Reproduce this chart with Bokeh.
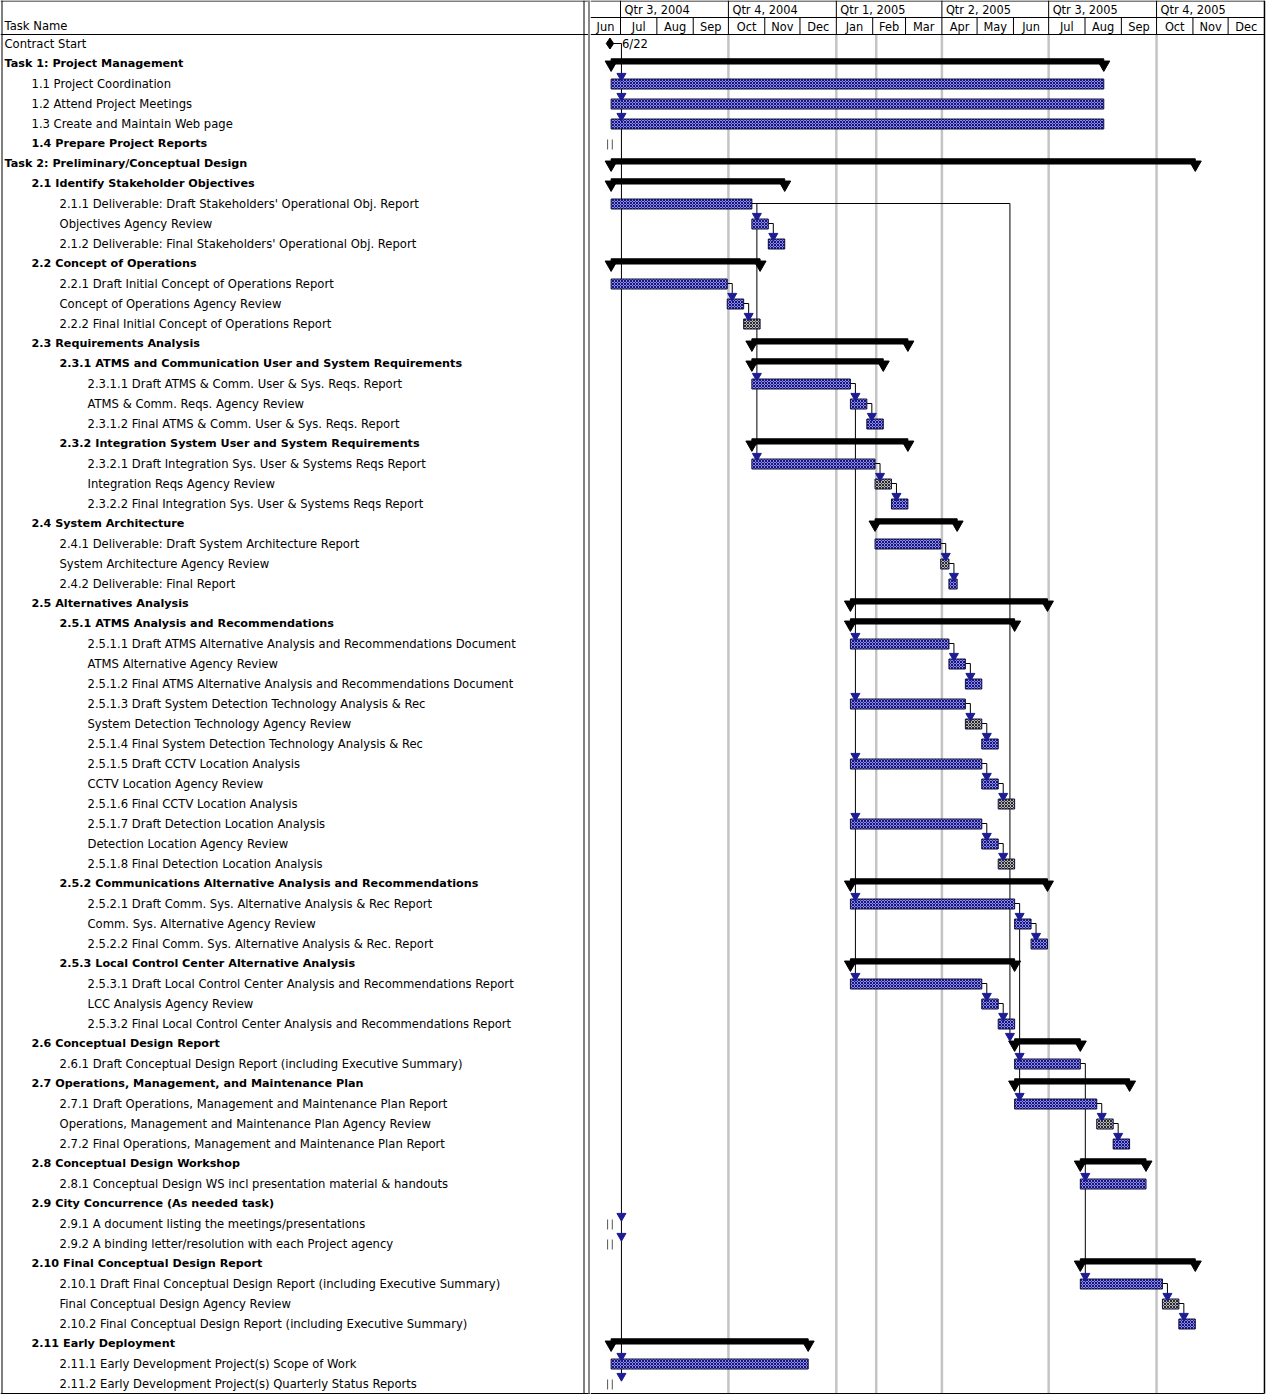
import pandas as pd
from datetime import datetime, timedelta
from bokeh.plotting import figure
from bokeh.layouts import row
from bokeh.models import Range1d
from bokeh.embed import file_html
from bokeh.resources import INLINE
from bokeh.core.properties import value

# ---------------------------------------------------------------- schedule
TASK_NAMES = [
    "Contract Start",
    "Task 1: Project Management",
    "1.1 Project Coordination",
    "1.2 Attend Project Meetings",
    "1.3 Create and Maintain Web page",
    "1.4 Prepare Project Reports",
    "Task 2: Preliminary/Conceptual Design",
    "2.1 Identify Stakeholder Objectives",
    "2.1.1 Deliverable: Draft Stakeholders' Operational Obj. Report",
    "Objectives Agency Review",
    "2.1.2 Deliverable: Final  Stakeholders' Operational Obj. Report",
    "2.2 Concept of Operations",
    "2.2.1 Draft Initial Concept of Operations Report",
    "Concept of Operations Agency Review",
    "2.2.2 Final Initial Concept of Operations Report",
    "2.3 Requirements Analysis",
    "2.3.1 ATMS and Communication User and System Requirements",
    "2.3.1.1 Draft ATMS & Comm. User & Sys. Reqs. Report",
    "ATMS & Comm. Reqs. Agency Review",
    "2.3.1.2 Final ATMS & Comm. User & Sys. Reqs. Report",
    "2.3.2 Integration System User and System Requirements",
    "2.3.2.1 Draft Integration Sys. User & Systems Reqs Report",
    "Integration Reqs Agency Review",
    "2.3.2.2 Final Integration Sys. User & Systems Reqs Report",
    "2.4 System Architecture",
    "2.4.1 Deliverable: Draft System Architecture Report",
    "System Architecture Agency Review",
    "2.4.2 Deliverable: Final Report",
    "2.5 Alternatives Analysis",
    "2.5.1 ATMS Analysis and Recommendations",
    "2.5.1.1 Draft ATMS Alternative Analysis and Recommendations Document",
    "ATMS Alternative Agency Review",
    "2.5.1.2 Final ATMS Alternative Analysis and Recommendations Document",
    "2.5.1.3 Draft System Detection Technology Analysis & Rec",
    "System Detection Technology Agency Review",
    "2.5.1.4 Final System Detection Technology Analysis & Rec",
    "2.5.1.5 Draft CCTV Location Analysis",
    "CCTV Location Agency Review",
    "2.5.1.6 Final CCTV Location Analysis",
    "2.5.1.7 Draft Detection Location Analysis",
    "Detection Location Agency Review",
    "2.5.1.8 Final Detection Location Analysis",
    "2.5.2 Communications Alternative Analysis and Recommendations",
    "2.5.2.1 Draft Comm. Sys. Alternative Analysis & Rec Report",
    "Comm. Sys. Alternative Agency Review",
    "2.5.2.2 Final Comm. Sys. Alternative Analysis & Rec. Report",
    "2.5.3 Local  Control Center Alternative Analysis",
    "2.5.3.1 Draft Local Control Center  Analysis and Recommendations Report",
    "LCC Analysis Agency Review",
    "2.5.3.2 Final Local Control Center Analysis and Recommendations Report",
    "2.6 Conceptual Design Report",
    "2.6.1 Draft Conceptual Design Report (including Executive Summary)",
    "2.7 Operations, Management, and Maintenance Plan",
    "2.7.1 Draft Operations, Management and Maintenance Plan Report",
    "Operations, Management and Maintenance Plan Agency Review",
    "2.7.2 Final Operations, Management and Maintenance Plan Report",
    "2.8 Conceptual Design Workshop",
    "2.8.1 Conceptual Design WS incl presentation material & handouts",
    "2.9 City Concurrence  (As needed task)",
    "2.9.1 A document listing the meetings/presentations",
    "2.9.2 A binding letter/resolution with each Project agency",
    "2.10 Final Conceptual Design Report",
    "2.10.1 Draft Final Conceptual Design Report (including Executive Summary)",
    "Final Conceptual Design Agency Review",
    "2.10.2 Final Conceptual Design Report (including Executive Summary)",
    "2.11 Early Deployment",
    "2.11.1 Early Development Project(s) Scope of Work",
    "2.11.2 Early Development Project(s) Quarterly Status Reports",
]

# outline level of each task (indentation in the table)
LEVELS = [0, 0, 1, 1, 1, 1, 0, 1, 2, 2, 2, 1, 2, 2, 2, 1, 2, 3, 3, 3, 2, 3, 3, 3,
          1, 2, 2, 2, 1, 2, 3, 3, 3, 3, 3, 3, 3, 3, 3, 3, 3, 3, 2, 3, 3, 3, 2, 3,
          3, 3, 1, 2, 1, 2, 2, 2, 1, 2, 1, 2, 2, 1, 2, 2, 2, 1, 2, 2]

# milestone / summary / task / group (bold, no span) / note (no span)
KINDS = ["milestone", "summary", "task", "task", "task", "group", "summary", "summary",
         "task", "task", "task", "summary", "task", "task", "task", "summary", "summary",
         "task", "task", "task", "summary", "task", "task", "task", "summary", "task",
         "task", "task", "summary", "summary", "task", "task", "task", "task", "task",
         "task", "task", "task", "task", "task", "task", "task", "summary", "task", "task",
         "task", "summary", "task", "task", "task", "summary", "task", "summary", "task",
         "task", "task", "summary", "task", "group", "note", "note", "summary", "task",
         "task", "task", "summary", "task", "note"]

STARTS = [
    "2004-06-22", "2004-06-23", "2004-06-23", "2004-06-23", "2004-06-23", None,
    "2004-06-23", "2004-06-23", "2004-06-23", "2004-10-21", "2004-11-04",
    "2004-06-23", "2004-06-23", "2004-09-30", "2004-10-14",
    "2004-10-21", "2004-10-21", "2004-10-21", "2005-01-13", "2005-01-27",
    "2004-10-21", "2004-10-21", "2005-02-03", "2005-02-17",
    "2005-02-03", "2005-02-03", "2005-03-31", "2005-04-07",
    "2005-01-13", "2005-01-13", "2005-01-13", "2005-04-07", "2005-04-21",
    "2005-01-13", "2005-04-21", "2005-05-05", "2005-01-13", "2005-05-05", "2005-05-19",
    "2005-01-13", "2005-05-05", "2005-05-19",
    "2005-01-13", "2005-01-13", "2005-06-02", "2005-06-16",
    "2005-01-13", "2005-01-13", "2005-05-05", "2005-05-19",
    "2005-06-02", "2005-06-02", "2005-06-02", "2005-06-02", "2005-08-11", "2005-08-25",
    "2005-07-28", "2005-07-28", None, None, None,
    "2005-07-28", "2005-07-28", "2005-10-06", "2005-10-20",
    "2004-06-23", "2004-06-23", None,
]

FINISHES = [
    "2004-06-22", "2005-08-17", "2005-08-17", "2005-08-17", "2005-08-17", None,
    "2005-11-03", "2004-11-18", "2004-10-21", "2004-11-04", "2004-11-18",
    "2004-10-28", "2004-09-30", "2004-10-14", "2004-10-28",
    "2005-03-03", "2005-02-10", "2005-01-13", "2005-01-27", "2005-02-10",
    "2005-03-03", "2005-02-03", "2005-02-17", "2005-03-03",
    "2005-04-14", "2005-03-31", "2005-04-07", "2005-04-14",
    "2005-06-30", "2005-06-02", "2005-04-07", "2005-04-21", "2005-05-05",
    "2005-04-21", "2005-05-05", "2005-05-19", "2005-05-05", "2005-05-19", "2005-06-02",
    "2005-05-05", "2005-05-19", "2005-06-02",
    "2005-06-30", "2005-06-02", "2005-06-16", "2005-06-30",
    "2005-06-02", "2005-05-05", "2005-05-19", "2005-06-02",
    "2005-07-28", "2005-07-28", "2005-09-08", "2005-08-11", "2005-08-25", "2005-09-08",
    "2005-09-22", "2005-09-22", None, None, None,
    "2005-11-03", "2005-10-06", "2005-10-20", "2005-11-03",
    "2004-12-08", "2004-12-08", None,
]

# bars drawn in the grey pattern instead of blue
GREY_BARS = [14, 22, 26, 34, 38, 41, 54, 63]

# finish-to-start links: predecessor row -> successor rows
LINKS = [
    (0, [2, 3, 4, 59, 60, 66, 67]),
    (8, [9, 17, 21]), (9, [10]),
    (12, [13]), (13, [14]),
    (17, [18, 30, 33, 36, 39, 43, 47]), (18, [19]),
    (21, [22]), (22, [23]),
    (25, [26]), (26, [27]),
    (30, [31]), (31, [32]),
    (33, [34]), (34, [35]),
    (36, [37]), (37, [38]),
    (39, [40]), (40, [41]),
    (43, [44, 51, 53]), (44, [45]),
    (47, [48]), (48, [49]),
    (51, [57, 62]),
    (53, [54]), (54, [55]),
    (62, [63]), (63, [64]),
]
# links routed along the predecessor row to a later bend date
ROUTED_LINKS = [(8, 50, "2005-05-29")]

# rows carrying small rolled-up tick marks at the project start
TICK_ROWS = [5, 59, 60, 67]

QUARTER_LABELS = ["Qtr 3, 2004", "Qtr 4, 2004", "Qtr 1, 2005",
                  "Qtr 2, 2005", "Qtr 3, 2005", "Qtr 4, 2005"]
QUARTER_STARTS = ["2004-07-01", "2004-10-01", "2005-01-01",
                  "2005-04-01", "2005-07-01", "2005-10-01"]
MONTH_LABELS = ["Jun", "Jul", "Aug", "Sep", "Oct", "Nov", "Dec",
                "Jan", "Feb", "Mar", "Apr", "May", "Jun", "Jul", "Aug", "Sep", "Oct", "Nov", "Dec"]
MONTH_BOUNDS = ["2004-06-01", "2004-07-01", "2004-08-01", "2004-09-01", "2004-10-01",
                "2004-11-01", "2004-12-01", "2005-01-01", "2005-02-01", "2005-03-01",
                "2005-04-01", "2005-05-01", "2005-06-01", "2005-07-01", "2005-08-01",
                "2005-09-01", "2005-10-01", "2005-11-01", "2005-12-01", "2006-01-01"]
GRID_DATES = ["2004-10-01", "2005-01-01", "2005-02-04", "2005-04-01",
              "2005-07-01", "2005-10-01"]
TIMESCALE_END = "2006-01-01"
MILESTONE_LABEL = "6/22"

# ---------------------------------------------------------------- geometry
W, H = 1266, 1395
TABLE_W = 590
CHART_W = W - TABLE_W
ROW_PX = 20
ROW0_PX = 43
PX_PER_DAY = 1.173
T0 = datetime(2004, 7, 1)
T0_PX = 30                      # where T0 falls inside the chart panel
INDENT = [4, 31, 59, 87]
FONT = value("DejaVu Sans")
FS = "11.6px"
FS_BOLD = "11.2px"
FS_HEAD = "11.4px"


def ry(px):
    """pixel offset from the top of the page -> row coordinate"""
    return (px - ROW0_PX) / ROW_PX


def dy(px):
    return px / ROW_PX


def days(px):
    return timedelta(days=px / PX_PER_DAY)


def ts(s):
    return pd.Timestamp(s)


n = len(TASK_NAMES)
Y_RANGE = (ry(H), ry(0))
x_start = T0 - days(T0_PX)
x_end = x_start + days(CHART_W)


def make_fig(width, x_range, **kw):
    p = figure(width=width, height=H, x_range=x_range,
               y_range=Range1d(*Y_RANGE), output_backend="svg",
               toolbar_location=None, min_border=0, **kw)
    p.axis.visible = False
    p.grid.visible = False
    p.outline_line_color = None
    p.background_fill_color = "white"
    p.border_fill_color = "white"
    return p


# ---------------------------------------------------------------- task table
left = make_fig(TABLE_W, Range1d(0, TABLE_W))

plain = [i for i in range(n) if KINDS[i] in ("milestone", "task", "note")]
bold = [i for i in range(n) if KINDS[i] in ("summary", "group")]
for idx, style, size in ((plain, "normal", FS), (bold, "bold", FS_BOLD)):
    left.text(x=[INDENT[LEVELS[i]] for i in idx], y=idx,
              text=[TASK_NAMES[i] for i in idx], text_font=FONT,
              text_font_size=size, text_font_style=style,
              text_baseline="middle", text_align="left", text_color="black")
left.text(x=[INDENT[0]], y=[ry(25.5)], text=["Task Name"], text_font=FONT,
          text_font_size=FS, text_baseline="middle", text_color="black")

left.segment(x0=[0, 0, 0], y0=[ry(0.5), ry(34), ry(H - 2)],
             x1=[TABLE_W, TABLE_W, TABLE_W], y1=[ry(0.5), ry(34), ry(H - 2)],
             line_color="black", line_width=1)
left.segment(x0=[1.5, 583.5], y0=[ry(0), ry(0)], x1=[1.5, 583.5], y1=[ry(H - 2), ry(H - 2)],
             line_color="black", line_width=1)
left.segment(x0=[588.5], y0=[ry(0)], x1=[588.5], y1=[ry(H - 2)],
             line_color="#8a8a8a", line_width=2)

# ---------------------------------------------------------------- timeline
right = make_fig(CHART_W, Range1d(x_start, x_end), x_axis_type="datetime")

# quarter / status grid lines
g = [ts(d) for d in GRID_DATES]
right.segment(x0=g, y0=[ry(34)] * len(g), x1=g, y1=[ry(H - 2)] * len(g),
              line_color="#8a8a8a", line_width=2.5, line_dash="1 1")

# header frame
end = ts(TIMESCALE_END)
right.segment(x0=[x_start] * 4, y0=[ry(0.5), ry(17), ry(34), ry(H - 2)],
              x1=[end] * 4, y1=[ry(0.5), ry(17), ry(34), ry(H - 2)],
              line_color="black", line_width=1)
right.segment(x0=[end], y0=[ry(0)], x1=[end], y1=[ry(H - 2)], line_color="black", line_width=1.5)
q = [ts(d) for d in QUARTER_STARTS]
right.segment(x0=q, y0=[ry(0)] * len(q), x1=q, y1=[ry(17)] * len(q),
              line_color="black", line_width=1)
mb = [ts(d) for d in MONTH_BOUNDS[1:-1]]
right.segment(x0=mb, y0=[ry(17)] * len(mb), x1=mb, y1=[ry(34)] * len(mb),
              line_color="black", line_width=1)
right.text(x=q, y=[ry(9)] * len(q), text=QUARTER_LABELS, text_font=FONT,
           text_font_size=FS_HEAD, text_baseline="middle", x_offset=4, text_color="black")
mid = []
for a, b in zip(MONTH_BOUNDS[:-1], MONTH_BOUNDS[1:]):
    a, b = max(ts(a), ts(x_start)), ts(b)
    mid.append(a + (b - a) / 2)
right.text(x=mid, y=[ry(26)] * len(mid), text=MONTH_LABELS, text_font=FONT,
           text_font_size=FS_HEAD, text_baseline="middle", text_align="center", text_color="black")

# links
ARROW_DY = dy(7.5)
lx0, ly0, lx1, ly1, ax, ay = [], [], [], [], [], []
for pred, succs in LINKS:
    f = ts(FINISHES[pred])
    bend = f + days(11.5 if KINDS[pred] == "milestone" else 5)
    last = max(succs)
    lx0 += [f, bend]; ly0 += [pred, pred]
    lx1 += [bend, bend]; ly1 += [pred, last - ARROW_DY]
    for s in succs:
        ax.append(bend); ay.append(s - ARROW_DY)
for pred, succ, bend in ROUTED_LINKS:
    f, bend = ts(FINISHES[pred]), ts(bend)
    lx0 += [f, bend]; ly0 += [pred, pred]
    lx1 += [bend, bend]; ly1 += [pred, succ - ARROW_DY]
    ax.append(bend); ay.append(succ - ARROW_DY)
right.segment(x0=lx0, y0=ly0, x1=lx1, y1=ly1, line_color="black", line_width=1)

# rolled-up tick marks
t1 = [ts("2004-06-20")] * len(TICK_ROWS) + [ts("2004-06-24")] * len(TICK_ROWS)
right.segment(x0=t1, y0=[r - dy(4) for r in TICK_ROWS] * 2,
              x1=t1, y1=[r + dy(6) for r in TICK_ROWS] * 2,
              line_color="#555555", line_width=1)

# task bars
task_rows = [i for i in range(n) if KINDS[i] == "task"]
for grey in (False, True):
    rows = [i for i in task_rows if (i in GREY_BARS) == grey]
    right.quad(left=[ts(STARTS[i]) for i in rows], right=[ts(FINISHES[i]) for i in rows],
               top=[i - dy(4.5) for i in rows], bottom=[i + dy(5.5) for i in rows],
               fill_color="#b8b8b8" if grey else "#8c8ce8",
               hatch_pattern="diagonal_cross", hatch_scale=3, hatch_weight=1,
               hatch_color="#2a2a2a" if grey else "#16167a",
               line_color="#101040", line_width=1)

# summary bars
sum_rows = [i for i in range(n) if KINDS[i] == "summary"]
right.quad(left=[ts(STARTS[i]) for i in sum_rows], right=[ts(FINISHES[i]) for i in sum_rows],
           top=[i - dy(4.7) for i in sum_rows], bottom=[i + dy(0.5) for i in sum_rows],
           fill_color="black", line_color="black")
cap_x = [ts(STARTS[i]) for i in sum_rows] + [ts(FINISHES[i]) for i in sum_rows]
cap_y = [i + dy(1) for i in sum_rows] * 2
right.scatter(x=cap_x, y=cap_y, marker="inverted_triangle", size=12,
              fill_color="black", line_color="black")

# link arrowheads
right.scatter(x=ax, y=ay, marker="inverted_triangle", size=9,
              fill_color="#1c1c96", line_color="#1c1c96")

# milestone
ms = [i for i in range(n) if KINDS[i] == "milestone"]
right.scatter(x=[ts(STARTS[i]) for i in ms], y=ms, marker="diamond", size=11,
              fill_color="black", line_color="black")
right.text(x=[ts(STARTS[i]) for i in ms], y=ms, text=[MILESTONE_LABEL] * len(ms),
           text_font=FONT, text_font_size=FS, text_baseline="middle", x_offset=12,
           text_color="black")

layout = row(left, right, spacing=0)
open("out.html", "w").write(file_html(layout, INLINE))
